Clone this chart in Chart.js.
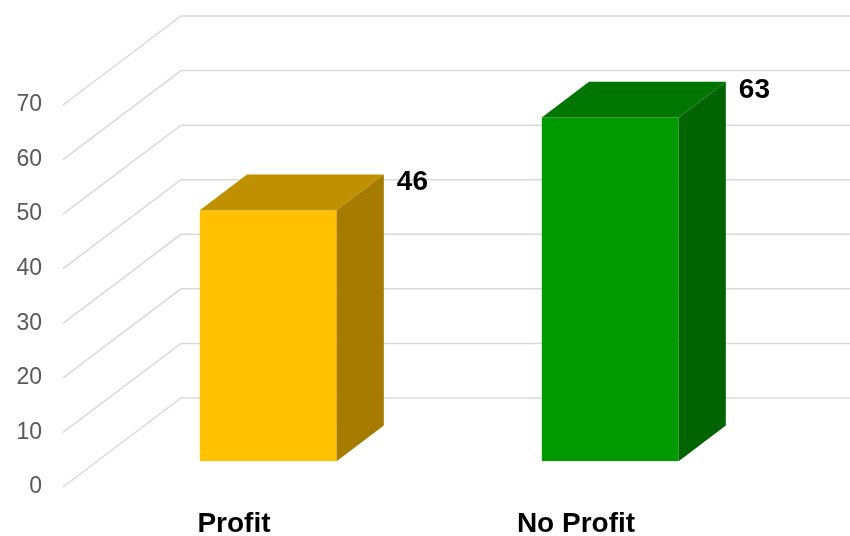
<!DOCTYPE html>
<html>
<head>
<meta charset="utf-8">
<script src="https://cdn.jsdelivr.net/npm/chart.js@4.4.0/dist/chart.umd.min.js"></script>
<style>
  html, body { margin: 0; padding: 0; background: #fff; }
  #wrap { width: 850px; height: 536px; }
</style>
</head>
<body>
<div id="wrap"><canvas id="profitChart"></canvas></div>
<script>
const categories = ["Profit", "No Profit"];
const counts = [46, 63];
const frontColors = ["#FFC000", "#009900"];
const topColors = ["#BF9000", "#007500"];
const sideColors = ["#A57C00", "#006400"];
const yTicks = [0, 10, 20, 30, 40, 50, 60, 70];

// oblique projection of the "3d" box
const DEPTH_X = 118;
const DEPTH_Y = -89;
const BAR_START = 0.29; // where the bar front sits inside the floor depth
const BAR_DEPTH = 0.4;

const FONT = "'Liberation Sans', Arial, sans-serif";

const box3d = {
  id: "box3d",
  beforeDatasetsDraw(chart) {
    const { ctx, chartArea } = chart;
    const yScale = chart.scales.y;
    ctx.save();
    ctx.strokeStyle = "#D9D9D9";
    ctx.lineWidth = 1.5;
    yScale.ticks.forEach((t) => {
      const y = yScale.getPixelForValue(t.value);
      ctx.beginPath();
      ctx.moveTo(chartArea.left, y);
      ctx.lineTo(chartArea.left + DEPTH_X, y + DEPTH_Y);
      ctx.lineTo(chart.width, y + DEPTH_Y);
      ctx.stroke();
    });
    ctx.restore();

    // front faces are drawn by chart.js, just pushed back into the box
    ctx.save();
    ctx.translate(BAR_START * DEPTH_X, BAR_START * DEPTH_Y);
  },
  afterDatasetsDraw(chart) {
    const { ctx } = chart;
    ctx.restore();

    const ox = BAR_START * DEPTH_X;
    const oy = BAR_START * DEPTH_Y;
    const dx = BAR_DEPTH * DEPTH_X;
    const dy = BAR_DEPTH * DEPTH_Y;

    const meta = chart.getDatasetMeta(0);
    meta.data.forEach((el, i) => {
      const p = el.getProps(["x", "y", "base", "width"], true);
      const L = p.x - p.width / 2 + ox;
      const R = p.x + p.width / 2 + ox;
      const T = p.y + oy;
      const B = p.base + oy;

      ctx.save();
      ctx.fillStyle = topColors[i];
      ctx.beginPath();
      ctx.moveTo(L, T);
      ctx.lineTo(R, T);
      ctx.lineTo(R + dx, T + dy);
      ctx.lineTo(L + dx, T + dy);
      ctx.closePath();
      ctx.fill();

      ctx.fillStyle = sideColors[i];
      ctx.beginPath();
      ctx.moveTo(R, T);
      ctx.lineTo(R + dx, T + dy);
      ctx.lineTo(R + dx, B + dy);
      ctx.lineTo(R, B);
      ctx.closePath();
      ctx.fill();

      ctx.fillStyle = "#000";
      ctx.font = "bold 28px " + FONT;
      ctx.textAlign = "left";
      ctx.textBaseline = "middle";
      ctx.fillText(String(counts[i]), R + dx + 13, T + dy + 8);
      ctx.restore();
    });
  },
};

new Chart(document.getElementById("profitChart"), {
  type: "bar",
  data: {
    labels: categories,
    datasets: [
      {
        data: counts,
        backgroundColor: frontColors,
        borderWidth: 0,
        categoryPercentage: 1,
        barPercentage: 0.4,
      },
    ],
  },
  options: {
    responsive: true,
    maintainAspectRatio: false,
    animation: false,
    layout: {
      padding: { top: 105, right: 103, bottom: 0, left: 1 },
    },
    scales: {
      x: {
        grid: { display: false, drawTicks: false },
        border: { display: false },
        ticks: {
          color: "#000",
          padding: 20,
          font: { family: FONT, size: 28, weight: "bold" },
        },
        afterFit(scale) {
          scale.height = 49;
        },
      },
      y: {
        min: 0,
        max: 70,
        grid: { display: false, drawTicks: false },
        border: { display: false },
        ticks: {
          stepSize: 10,
          color: "#595959",
          padding: 21,
          font: { family: FONT, size: 23 },
        },
        afterBuildTicks(scale) {
          scale.ticks = yTicks.map((v) => ({ value: v }));
        },
        afterFit(scale) {
          scale.width = 62;
        },
      },
    },
    plugins: {
      legend: { display: false },
      tooltip: { enabled: false },
    },
  },
  plugins: [box3d],
});
</script>
</body>
</html>
